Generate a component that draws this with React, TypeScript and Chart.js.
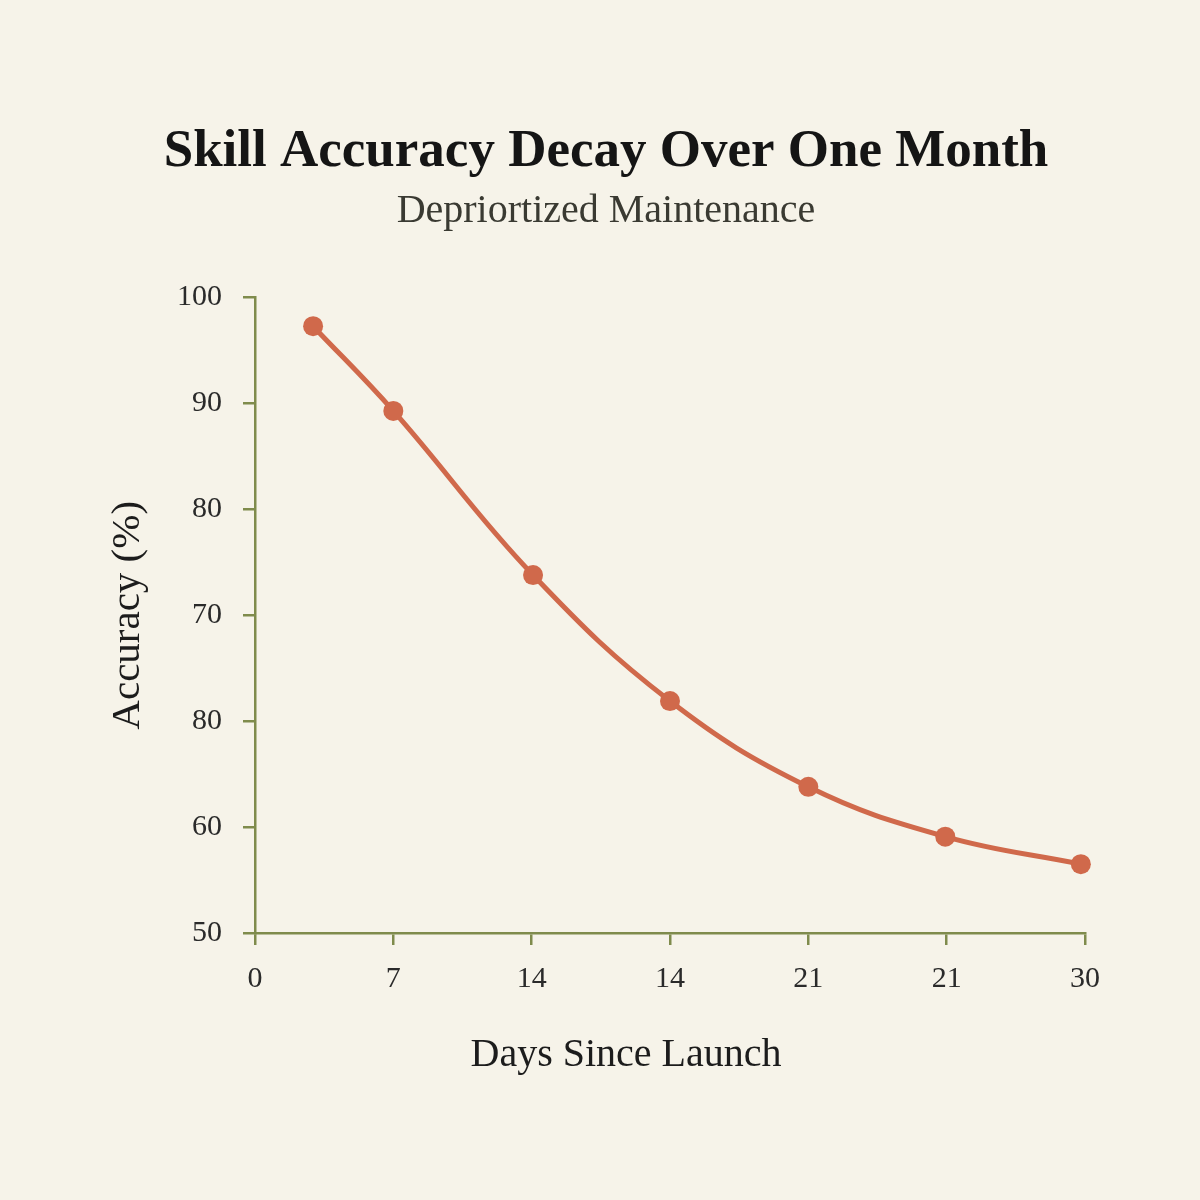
import React, { useEffect, useRef } from "react";
import { Chart, registerables } from "chart.js";

Chart.register(...registerables);

const chartTitle = "Skill Accuracy Decay Over One Month";
const chartSubtitle = "Depriortized Maintenance";
const xAxisTitle = "Days Since Launch";
const yAxisTitle = "Accuracy (%)";

// x tick labels as printed, one per tick position (index 0..6)
const xTickLabels = ["0", "7", "14", "14", "21", "21", "30"];
// y tick labels as printed, from top (value 100) down to bottom (value 40)
const yTickLabels = ["100", "90", "80", "70", "80", "60", "50"];

// point positions along the x axis (in tick-index units) and accuracy values
const pointPositions = [0.42, 1, 2.01, 3, 4, 4.99, 5.97];
const accuracyValues = [97.3, 89.3, 73.8, 61.9, 53.8, 49.1, 46.5];

const BG = "#f6f3e9";
const AXIS = "#7f8b4c";
const LINE = "#d0694b";
const FONT = "'Liberation Serif', 'Times New Roman', serif";

export default function App() {
  const ref = useRef<HTMLCanvasElement | null>(null);

  useEffect(() => {
    document.body.style.margin = "0";
    document.body.style.background = BG;
    const canvas = ref.current;
    if (!canvas) return;

    const bgPlugin = {
      id: "bg",
      beforeDraw(chart: any) {
        const { ctx, width, height } = chart;
        ctx.save();
        ctx.fillStyle = BG;
        ctx.fillRect(0, 0, width, height);
        ctx.restore();
      },
    };

    const xTitlePlugin = {
      id: "xTitle",
      afterDraw(chart: any) {
        const { ctx, chartArea } = chart;
        ctx.save();
        ctx.font = `40px ${FONT}`;
        ctx.fillStyle = "#1c1c1c";
        ctx.textAlign = "center";
        ctx.textBaseline = "middle";
        const cx = (chartArea.left + chartArea.right) / 2 - 44;
        ctx.fillText(xAxisTitle, cx, chartArea.bottom + 122);
        ctx.restore();
      },
    };

    const chart = new Chart(canvas, {
      type: "line",
      data: {
        datasets: [
          {
            data: pointPositions.map((x, i) => ({ x, y: accuracyValues[i] })),
            borderColor: LINE,
            backgroundColor: LINE,
            borderWidth: 5,
            pointRadius: 10,
            pointBorderWidth: 0,
            pointBackgroundColor: LINE,
            tension: 0.4,
            fill: false,
            clip: false,
          },
        ],
      },
      options: {
        responsive: false,
        animation: false,
        layout: { padding: { left: 127, right: 115, top: 0, bottom: 0 } },
        plugins: {
          legend: { display: false },
          tooltip: { enabled: false },
          title: {
            display: true,
            text: chartTitle,
            color: "#151515",
            font: { family: FONT, size: 53, weight: "bold", lineHeight: 1.2 },
            padding: { top: 121, bottom: 0 },
          },
          subtitle: {
            display: true,
            text: chartSubtitle,
            color: "#3a3a32",
            font: { family: FONT, size: 40, weight: "normal", lineHeight: 1.2 },
            padding: { top: 3, bottom: 62 },
          },
        },
        scales: {
          x: {
            type: "linear",
            min: 0,
            max: 6,
            afterFit(scale: any) {
              scale.height = 267;
            },
            afterBuildTicks(scale: any) {
              scale.ticks = xTickLabels.map((_, i) => ({ value: i }));
            },
            ticks: {
              color: "#2a2a2a",
              font: { family: FONT, size: 30 },
              padding: 16,
              maxRotation: 0,
              autoSkip: false,
              callback: (v: any) => xTickLabels[Math.round(Number(v))] ?? "",
            },
            grid: {
              drawOnChartArea: false,
              color: AXIS,
              lineWidth: 2.5,
              tickLength: 12,
            },
            border: { color: AXIS, width: 2.5 },
          },
          y: {
            type: "linear",
            min: 40,
            max: 100,
            afterFit(scale: any) {
              scale.width = 128;
            },
            afterBuildTicks(scale: any) {
              scale.ticks = yTickLabels.map((_, i) => ({ value: 100 - i * 10 }));
            },
            ticks: {
              color: "#2a2a2a",
              font: { family: FONT, size: 30 },
              padding: 21,
              autoSkip: false,
              callback: (v: any) => yTickLabels[Math.round((100 - Number(v)) / 10)] ?? "",
            },
            grid: {
              drawOnChartArea: false,
              color: AXIS,
              lineWidth: 2.5,
              tickLength: 12,
            },
            border: { color: AXIS, width: 2.5 },
            title: {
              display: true,
              text: yAxisTitle,
              color: "#1c1c1c",
              font: { family: FONT, size: 41, weight: "normal", lineHeight: 1.2 },
              padding: { top: -23.6, bottom: 0 },
            },
          },
        },
      },
      plugins: [bgPlugin, xTitlePlugin],
    } as any);

    return () => chart.destroy();
  }, []);

  return (
    <div style={{ position: "absolute", left: 0, top: 0, width: 1200, height: 1200, background: BG }}>
      <canvas ref={ref} width={1200} height={1200} style={{ display: "block" }} />
    </div>
  );
}
